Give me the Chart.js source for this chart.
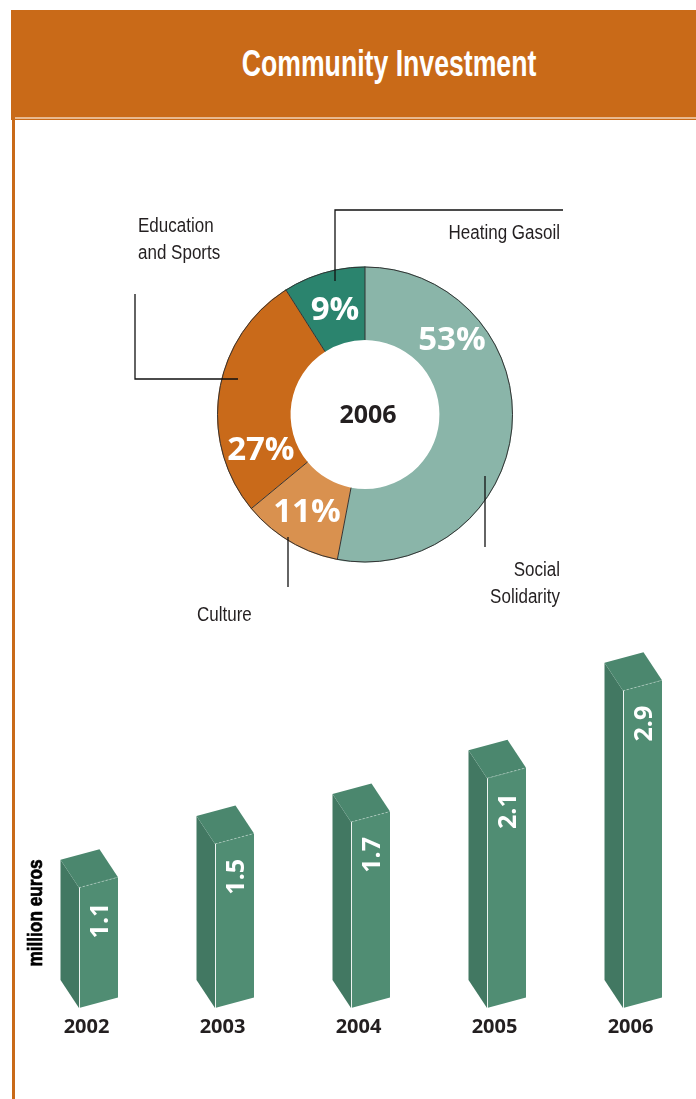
<!DOCTYPE html>
<html><head><meta charset="utf-8">
<script src="https://cdn.jsdelivr.net/npm/chart.js@4.4.0/dist/chart.umd.min.js"></script>
<style>
html,body{margin:0;padding:0;background:#fff;width:696px;height:1099px;overflow:hidden;position:relative;}
#hdr{position:absolute;left:11px;top:10px;width:685px;height:110px;background:#c96a18;}
#hdrline{position:absolute;left:15px;top:117px;width:681px;height:2px;background:#e8b98f;}
#leftbar{position:absolute;left:12px;top:119px;width:3px;height:980px;background:#c96a18;}
#title{position:absolute;top:42px;left:389px;transform:translateX(-50%) scaleX(0.74);font:bold 36px "Liberation Sans",Arial,sans-serif;color:#fff;white-space:nowrap;line-height:44px;}
canvas{position:absolute;}
#donut{left:120px;top:195px;}
#bars{left:0px;top:620px;}
</style></head>
<body>
<div id="hdr"></div><div id="hdrline"></div><div id="leftbar"></div>
<div id="title">Community Investment</div>
<canvas id="donut" width="460" height="440"></canvas>
<canvas id="bars" width="696" height="440"></canvas>
<script>
// ---- data ----
const donutYear = '2006';
const donutLabels = [['Social','Solidarity'], 'Culture', ['Education','and Sports'], 'Heating Gasoil'];
const donutShares = [53, 11, 27, 9];
const donutColors = ['#8ab5a9', '#d9914f', '#c96a1a', '#2b846e'];

const barYears = ['2002', '2003', '2004', '2005', '2006'];
const barValues = [1.1, 1.5, 1.7, 2.1, 2.9];
const barUnit = 'million euros';

const NARROW = '"Liberation Sans",Arial,sans-serif';
const BOLD = '"Open Sans","Noto Sans",sans-serif';

// ---- donut decorations ----
const donutDeco = {
  id: 'donutDeco',
  afterDatasetsDraw(chart, args, o) {
    const ctx = chart.ctx;
    const meta = chart.getDatasetMeta(0);
    const a0 = meta.data[0];
    const cx = a0.x, cy = a0.y, R = a0.outerRadius, r = a0.innerRadius;
    ctx.save();
    // separators + outer ring
    ctx.strokeStyle = '#333';
    ctx.lineWidth = 1;
    meta.data.forEach(arc => {
      const ang = arc.startAngle;
      ctx.beginPath();
      ctx.moveTo(cx + Math.cos(ang) * r, cy + Math.sin(ang) * r);
      ctx.lineTo(cx + Math.cos(ang) * R, cy + Math.sin(ang) * R);
      ctx.stroke();
    });
    ctx.beginPath();
    ctx.arc(cx, cy, R - 0.5, 0, Math.PI * 2);
    ctx.stroke();
    // percentage labels
    ctx.fillStyle = '#fff';
    ctx.font = 'bold 33px ' + BOLD;
    ctx.textAlign = 'center';
    ctx.textBaseline = 'middle';
    chart.data.datasets[0].data.forEach((v, i) => {
      const th = o.labelAngles[i] * Math.PI / 180;
      const rr = o.labelRadii[i];
      ctx.fillText(v + '%', cx + rr * Math.sin(th), cy - rr * Math.cos(th) + 1);
    });
    // centre year
    ctx.fillStyle = '#231f20';
    ctx.font = 'bold 25px ' + BOLD;
    ctx.fillText(o.centerText, cx + 3, cy + 1);
    // leaders
    ctx.strokeStyle = '#111';
    ctx.lineWidth = 1.3;
    o.leaders.forEach(pts => {
      ctx.beginPath();
      pts.forEach((p, k) => k ? ctx.lineTo(cx + p[0], cy + p[1]) : ctx.moveTo(cx + p[0], cy + p[1]));
      ctx.stroke();
    });
    // category names (condensed by horizontal scaling)
    ctx.fillStyle = '#231f20';
    ctx.font = '20px ' + NARROW;
    ctx.textBaseline = 'alphabetic';
    chart.data.labels.forEach((lab, i) => {
      const t = o.textPos[i];
      const lines = Array.isArray(lab) ? lab : [lab];
      ctx.textAlign = t.align;
      lines.forEach((ln, k) => {
        ctx.save();
        ctx.translate(cx + t.x, cy + t.y + k * 26.5);
        ctx.scale(o.condense, 1);
        ctx.fillText(ln, 0, 0);
        ctx.restore();
      });
    });
    ctx.restore();
  }
};

new Chart(document.getElementById('donut'), {
  type: 'doughnut',
  data: {
    labels: donutLabels,
    datasets: [{ data: donutShares, backgroundColor: donutColors, borderWidth: 0 }]
  },
  options: {
    responsive: false, animation: false, events: [],
    cutout: '50.3%',
    layout: { padding: { left: 97, right: 67, top: 71.5, bottom: 72.5 } },
    plugins: {
      legend: { display: false }, tooltip: { enabled: false },
      donutDeco: {
        centerText: donutYear,
        condense: 0.85,
        labelAngles: [49.4, 210.8, 251.2, 344],
        labelRadii: [114.5, 113.4, 110, 108.7],
        leaders: [
          [[120, 61.5], [120, 132.5]],
          [[-77, 122.5], [-77, 172.5]],
          [[-127, -35.5], [-230, -35.5], [-230, -120.5]],
          [[-30, -133.5], [-30, -204.5], [198, -204.5]]
        ],
        textPos: [
          { x: 195, y: 161.5, align: 'right' },
          { x: -168, y: 206.5, align: 'left' },
          { x: -227, y: -182.5, align: 'left' },
          { x: 195, y: -175.5, align: 'right' }
        ]
      }
    }
  },
  plugins: [donutDeco]
});

// ---- 3D bars ----
const bar3d = {
  id: 'bar3d',
  afterDatasetsDraw(chart, args, o) {
    const ctx = chart.ctx;
    const meta = chart.getDatasetMeta(0);
    const poly = (pts, fill) => {
      ctx.beginPath();
      pts.forEach((p, k) => k ? ctx.lineTo(p[0], p[1]) : ctx.moveTo(p[0], p[1]));
      ctx.closePath();
      ctx.fillStyle = fill;
      ctx.fill();
    };
    ctx.save();
    meta.data.forEach((bar, i) => {
      const { x, y, base, width } = bar.getProps(['x', 'y', 'base', 'width'], true);
      const xl = x - width / 2, xr = x + width / 2;
      const s = o.slope, dx = o.depthX, dy = o.depthY;
      poly([[xl, y], [xl + dx, y + dy], [xl + dx, base + dy], [xl, base]], o.side);
      poly([[xl, y], [xr, y + s], [xr + dx, y + s + dy], [xl + dx, y + dy]], o.top);
      poly([[xl, y], [xr, y + s], [xr, base + s], [xl, base]], o.front);
      // white edge between side and front
      ctx.strokeStyle = 'rgba(255,255,255,0.9)';
      ctx.lineWidth = 1;
      ctx.beginPath(); ctx.moveTo(xl + 0.5, y); ctx.lineTo(xl + 0.5, base); ctx.stroke();
      // faint dashed top edge
      ctx.strokeStyle = 'rgba(255,255,255,0.35)';
      ctx.setLineDash([2, 2]);
      ctx.beginPath(); ctx.moveTo(xl, y); ctx.lineTo(xr, y + s); ctx.stroke();
      ctx.setLineDash([]);
      // value label
      ctx.save();
      ctx.font = 'bold 25px ' + BOLD;
      ctx.fillStyle = '#fff';
      ctx.textAlign = 'right';
      ctx.textBaseline = 'alphabetic';
      ctx.translate(x + 9, y + o.labelGap);
      ctx.rotate(-Math.PI / 2);
      ctx.fillText(String(chart.data.datasets[0].data[i]), 0, 0);
      ctx.restore();
    });
    // unit title
    ctx.save();
    ctx.font = 'bold 21px ' + NARROW;
    ctx.fillStyle = '#000';
    ctx.strokeStyle = '#000';
    ctx.lineWidth = 0.7;
    ctx.textAlign = 'center';
    ctx.textBaseline = 'alphabetic';
    ctx.translate(42, 293);
    ctx.rotate(-Math.PI / 2);
    ctx.scale(0.82, 1);
    ctx.fillText(o.unit, 0, 0);
    ctx.strokeText(o.unit, 0, 0);
    ctx.restore();
    ctx.restore();
  }
};

new Chart(document.getElementById('bars'), {
  type: 'bar',
  data: {
    labels: barYears,
    datasets: [{ data: barValues, backgroundColor: 'rgba(0,0,0,0)', borderWidth: 0, barThickness: 39, clip: false }]
  },
  options: {
    responsive: false, animation: false, events: [],
    layout: { padding: { left: 98.5, right: 53.5, top: 38, bottom: 14 } },
    plugins: {
      legend: { display: false }, tooltip: { enabled: false },
      bar3d: {
        slope: -10.5, depthX: -18.5, depthY: -28, labelGap: 15,
        front: '#508d73', side: '#427862', top: '#4b876e', unit: barUnit
      }
    },
    scales: {
      y: { display: false, min: 0, max: 3.2 },
      x: {
        offset: false,
        grid: { display: false, drawTicks: false },
        border: { display: false },
        ticks: { font: { family: BOLD, weight: 'bold', size: 20 }, color: '#231f20', labelOffset: -12, padding: 7, autoSkip: false, maxRotation: 0 }
      }
    }
  },
  plugins: [bar3d]
});
</script>
</body></html>
